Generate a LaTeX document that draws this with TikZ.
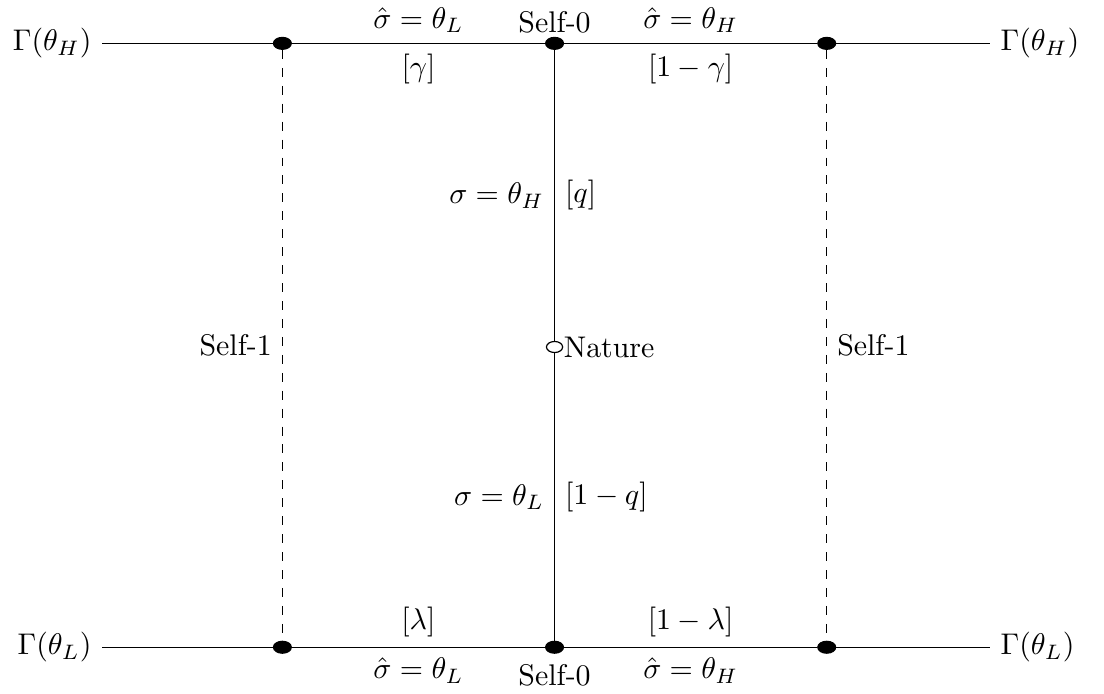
\documentclass[tikz,border=0pt]{standalone}
\usepackage{tikz}
\usetikzlibrary{shapes.geometric}

\begin{document}
\begin{tikzpicture}[font=\normalsize,
    dot/.style={ellipse,draw,fill,minimum width=0.21cm,minimum height=0.14cm,inner sep=0pt},
    chance/.style={ellipse,draw,minimum width=0.19cm,minimum height=0.13cm,inner sep=0pt}]
    \useasboundingbox (0,0) rectangle (12.98,8.15);
    % decision nodes
    \node[dot] (tl) at (3.32,7.64) {};
    \node[dot] (tc) at (6.52,7.64) {};
    \node[dot] (tr) at (9.72,7.64) {};
    \node[dot] (bl) at (3.32,0.54) {};
    \node[dot] (bc) at (6.52,0.54) {};
    \node[dot] (br) at (9.72,0.54) {};
    \node[chance] (nat) at (6.52,4.07) {};
    \node[right,inner sep=0pt] (natlbl) at (nat.east) {Nature};
    \node[above,inner sep=1pt] (tclbl) at (tc.north) {Self-0};
    \node[below] (bclbl) at (bc.south) {Self-0};
    % payoffs
    \node[left] (gHl) at (1.20,7.64) {$\Gamma(\theta_H)$};
    \node[right] (gHr) at (11.64,7.64) {$\Gamma(\theta_H)$};
    \node[left] (gLl) at (1.20,0.54) {$\Gamma(\theta_L)$};
    \node[right] (gLr) at (11.64,0.54) {$\Gamma(\theta_L)$};
    % top
    \draw (gHl) -- (tl);
    \draw (tl) -- node[above]{$\hat\sigma=\theta_L$} node[below]{$[\gamma]$} (tc);
    \draw (tc) -- node[above]{$\hat\sigma=\theta_H$} node[below]{$[1-\gamma]$} (tr);
    \draw (tr) -- (gHr);
    % bottom
    \draw (gLl) -- (bl);
    \draw (bl) -- node[above]{$[\lambda]$} node[below]{$\hat\sigma=\theta_L$} (bc);
    \draw (bc) -- node[above]{$[1-\lambda]$} node[below]{$\hat\sigma=\theta_H$} (br);
    \draw (br) -- (gLr);
    % nature
    \draw (nat) -- node[left]{$\sigma=\theta_H$} node[right]{$[q]$} (tc);
    \draw (nat) -- node[left]{$\sigma=\theta_L$} node[right]{$[1-q]$} (bc);
    % information sets
    \draw[dashed] (tl) -- node[left]{Self-1} (bl);
    \draw[dashed] (tr) -- node[right]{Self-1} (br);
\end{tikzpicture}
\end{document}
